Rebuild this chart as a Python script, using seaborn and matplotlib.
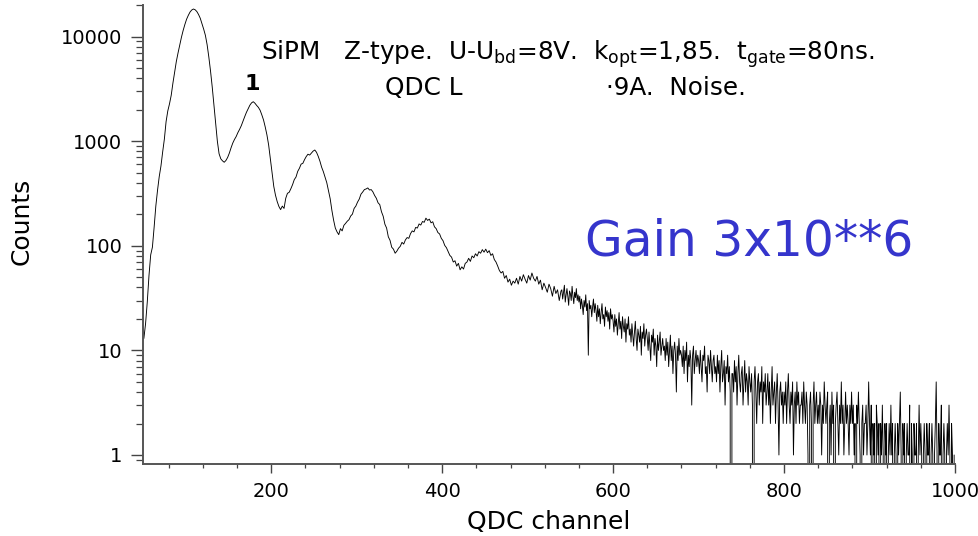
import matplotlib
matplotlib.use("Agg")
import matplotlib.pyplot as plt
import pandas as pd
import seaborn as sns
from matplotlib.ticker import MultipleLocator, LogLocator, NullFormatter, FixedLocator, FixedFormatter

# ---------------- data ----------------
# peak region sampled every 2nd channel, noisy tail every channel
channels = list(range(51, 540, 2)) + list(range(540, 1000))
counts_peaks = (
    [13, 18, 29, 52, 82, 97, 150, 240, 340, 460]
    + [580, 790, 1050, 1540, 1950, 2280, 2750, 3600, 4550, 5800]
    + [7000, 8300, 9900, 11500, 13100, 14700, 16000, 17200, 18000, 18400]
    + [18100, 17400, 16300, 15000, 13300, 11800, 10300, 8400, 6400, 4700]
    + [3300, 2200, 1480, 1000, 760, 680, 650, 630, 655, 700]
    + [770, 865, 960, 1040, 1110, 1210, 1300, 1410, 1560, 1720]
    + [1890, 2040, 2210, 2330, 2390, 2310, 2200, 2110, 1980, 1790]
    + [1600, 1370, 1150, 920, 680, 500, 370, 305, 265, 238]
    + [222, 240, 228, 285, 318, 325, 352, 385, 430, 455]
    + [515, 552, 605, 615, 668, 715, 752, 738, 772, 805]
    + [825, 785, 718, 645, 565, 512, 455, 402, 338, 282]
    + [218, 176, 148, 136, 128, 146, 139, 157, 164, 172]
    + [178, 193, 201, 228, 240, 262, 280, 312, 327, 345]
    + [350, 358, 342, 345, 328, 303, 285, 258, 248, 212]
    + [192, 161, 148, 122, 113, 97, 93, 85, 89, 95]
    + [99, 108, 104, 114, 120, 118, 131, 139, 136, 150]
    + [148, 162, 158, 171, 168, 184, 175, 180, 166, 170]
    + [152, 146, 134, 130, 118, 112, 101, 96, 88, 81]
    + [78, 70, 72, 64, 68, 59, 63, 60, 68, 70]
    + [76, 71, 80, 77, 84, 80, 88, 85, 92, 87]
    + [93, 86, 90, 81, 84, 74, 70, 64, 58, 55]
    + [57, 49, 52, 45, 48, 42, 46, 44, 49, 43]
    + [51, 46, 53, 48, 44, 52, 47, 55, 49, 46]
    + [51, 43, 47, 38, 44, 40, 36, 43, 39, 33]
    + [41, 35, 38, 30, 37]
)
counts_tail = (
    [38, 31, 36, 42, 29, 34, 39, 33, 27, 37, 35, 30, 41, 33, 28, 36, 32, 39, 30, 34]
    + [29, 33, 25, 31, 27, 22, 30, 26, 34, 24, 28, 9, 30, 25, 27, 21, 26, 31, 23, 28]
    + [24, 19, 27, 21, 25, 18, 23, 28, 20, 22, 17, 26, 21, 24, 19, 23, 16, 25, 20, 22]
    + [19, 15, 22, 17, 20, 14, 18, 23, 16, 19, 13, 21, 17, 15, 20, 12, 18, 16, 21, 14]
    + [16, 12, 18, 14, 11, 15, 19, 13, 10, 16, 14, 12, 17, 9, 15, 13, 18, 11, 14, 16]
    + [13, 10, 15, 11, 8, 14, 12, 16, 9, 13, 11, 7, 14, 10, 12, 15, 9, 11, 13, 10]
    + [11, 8, 13, 9, 12, 7, 10, 14, 8, 11, 6, 10, 12, 9, 4, 11, 8, 13, 9, 10]
    + [9, 7, 11, 6, 10, 8, 12, 5, 9, 7, 10, 8, 3, 9, 11, 6, 8, 10, 7, 9]
    + [8, 6, 10, 7, 5, 9, 8, 11, 6, 7, 4, 9, 8, 6, 10, 7, 5, 8, 9, 6]
    + [7, 5, 9, 6, 8, 4, 7, 10, 5, 6, 8, 3, 7, 6, 9, 5, 7, 4, 0, 6]
    + [6, 4, 8, 5, 7, 3, 6, 9, 5, 4, 6, 7, 3, 5, 8, 4, 6, 5, 3, 7]
    + [5, 4, 6, 3, 0, 5, 7, 4, 2, 5, 6, 3, 5, 4, 7, 2, 5, 4, 6, 3]
    + [4, 6, 3, 5, 2, 4, 7, 3, 4, 5, 2, 4, 6, 3, 1, 4, 5, 3, 4, 2]
    + [4, 3, 5, 2, 4, 6, 3, 2, 4, 3, 5, 1, 3, 4, 2, 5, 3, 4, 2, 3]
    + [3, 4, 2, 5, 3, 2, 4, 3, 1, 0, 3, 4, 2, 0, 3, 5, 2, 3, 4, 2]
    + [3, 2, 4, 3, 1, 3, 2, 5, 3, 2, 3, 4, 0, 2, 3, 1, 4, 2, 3, 0]
    + [2, 3, 4, 2, 1, 3, 2, 5, 2, 3, 1, 2, 4, 2, 3, 2, 1, 3, 2, 4]
    + [2, 3, 1, 2, 0, 3, 2, 4, 2, 1, 0, 2, 3, 1, 2, 2, 3, 1, 2, 5]
    + [2, 1, 3, 0, 2, 1, 2, 0, 3, 2, 1, 2, 0, 2, 1, 3, 1, 0, 2, 1]
    + [2, 0, 1, 2, 1, 3, 1, 2, 0, 1, 2, 1, 0, 2, 1, 2, 4, 1, 0, 2]
    + [1, 2, 0, 1, 2, 1, 1, 3, 0, 2, 1, 0, 2, 1, 1, 2, 0, 1, 3, 1]
    + [2, 1, 0, 1, 2, 1, 0, 2, 1, 1, 2, 0, 1, 2, 1, 0, 1, 2, 5, 1]
    + [0, 2, 1, 1, 3, 0, 1, 2, 1, 0, 1, 2, 1, 3, 1, 0, 2, 1, 0, 1]
)
counts = counts_peaks + counts_tail
assert len(channels) == len(counts), (len(channels), len(counts))

y_ticks = [1, 10, 100, 1000, 10000]
y_tick_labels = ["1", "10", "100", "1000", "10000"]
x_ticks = [200, 400, 600, 800, 1000]
x_tick_labels = ["200", "400", "600", "800", "1000"]

info_line1 = r"SiPM   Z-type.  U-U$_{\rm bd}$=8V.  k$_{\rm opt}$=1,85.  t$_{\rm gate}$=80ns."
info_line2a = "QDC L"
info_line2b = "\u00b79A.  Noise."
peak_label = "1"
gain_text = "Gain 3x10**6"

# ---------------- plot ----------------
sns.set_style("white")
plt.rcParams["font.family"] = ["DejaVu Sans"]
plt.rcParams["mathtext.fontset"] = "dejavusans"
plt.rcParams["text.color"] = "black"
plt.rcParams["axes.labelcolor"] = "black"
plt.rcParams["xtick.color"] = "black"
plt.rcParams["ytick.color"] = "black"

W, H = 979, 536
fig = plt.figure(figsize=(W / 100, H / 100), dpi=100)
ax_l, ax_r, ax_t, ax_b = 143, 955, 5, 464
ax = fig.add_axes([ax_l / W, 1 - ax_b / H, (ax_r - ax_l) / W, (ax_b - ax_t) / H])

df = pd.DataFrame({"channel": channels, "counts": counts})
sns.lineplot(data=df, x="channel", y="counts", color="black", linewidth=0.65,
             estimator=None, sort=False, ax=ax)
ax.set_yscale("log", nonpositive="clip")
ax.set_xlim(50, 1000)
ax.set_ylim(0.82, 20100)

ax.yaxis.set_major_locator(FixedLocator(y_ticks))
ax.yaxis.set_major_formatter(FixedFormatter(y_tick_labels))
ax.yaxis.set_minor_locator(LogLocator(base=10, subs=[2, 3, 4, 5, 6, 7, 8, 9], numticks=20))
ax.yaxis.set_minor_formatter(NullFormatter())
ax.xaxis.set_major_locator(FixedLocator(x_ticks))
ax.xaxis.set_major_formatter(FixedFormatter(x_tick_labels))
ax.xaxis.set_minor_locator(MultipleLocator(40))

for s in ["top", "right"]:
    ax.spines[s].set_visible(False)
for s in ["left", "bottom"]:
    ax.spines[s].set_color("#555555")
    ax.spines[s].set_linewidth(1.4)

ax.tick_params(axis="y", which="major", direction="out", length=8.4, width=1.0,
               color="#444444", labelcolor="black", labelsize=14, pad=6.5, left=True)
ax.tick_params(axis="y", which="minor", direction="out", length=4.8, width=0.9,
               color="#444444", left=True)
ax.tick_params(axis="x", which="major", direction="out", length=6.5, width=1.0,
               color="#444444", labelcolor="black", labelsize=14, pad=6.5, bottom=True)
ax.tick_params(axis="x", which="minor", direction="out", length=3.1, width=0.9,
               color="#444444", bottom=True)

ax.set_ylabel("Counts", fontsize=18, color="black")
ax.set_xlabel("QDC channel", fontsize=18, color="black")
ax.yaxis.label.set_va("center")
ax.xaxis.label.set_va("center")
ax.yaxis.set_label_coords((22 - ax_l) / (ax_r - ax_l), (ax_b - 221) / (ax_b - ax_t))
ax.xaxis.set_label_coords((548.5 - ax_l) / (ax_r - ax_l), (ax_b - 522) / (ax_b - ax_t))

fig.text(261 / W, 1 - 60 / H, info_line1, fontsize=17.8, color="black", ha="left", va="baseline")
fig.text(385 / W, 1 - 95 / H, info_line2a, fontsize=17.8, color="black", ha="left", va="baseline")
fig.text(606 / W, 1 - 95 / H, info_line2b, fontsize=17.8, color="black", ha="left", va="baseline")
fig.text(252.5 / W, 1 - 90 / H, peak_label, fontsize=16, fontweight="bold", color="black",
         ha="center", va="baseline")
fig.text(585 / W, 1 - 256 / H, gain_text, fontsize=35, color="#3535cc",
         ha="left", va="baseline")

fig.savefig("out.png", dpi=100)
